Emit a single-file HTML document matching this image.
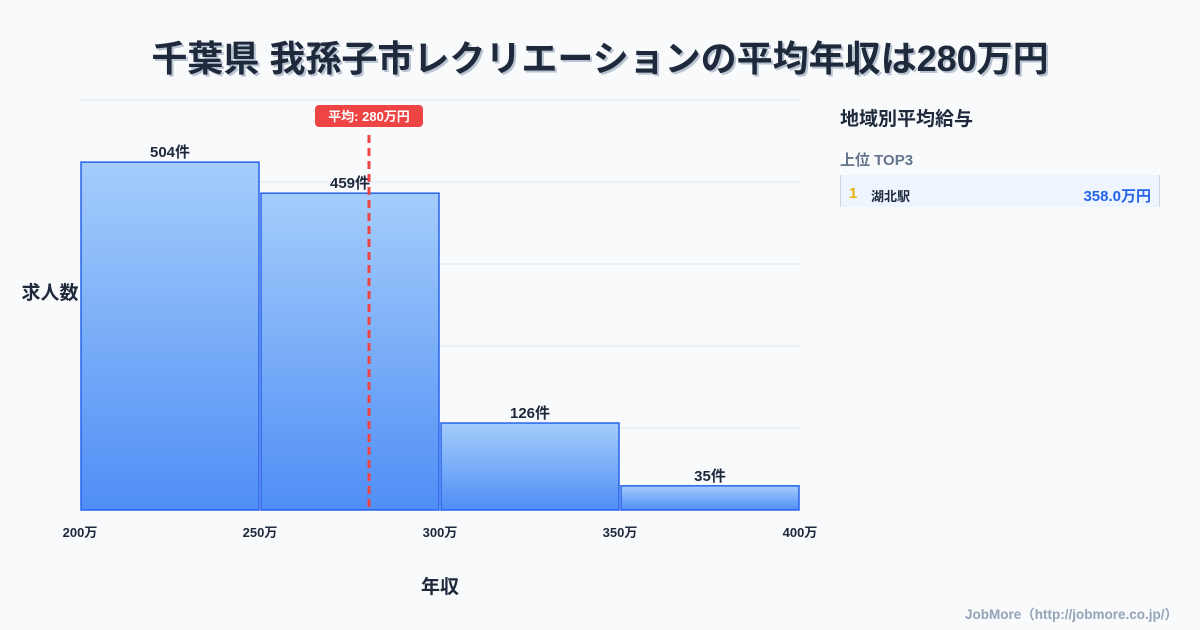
<!DOCTYPE html>
<html><head><meta charset="utf-8"><style>
body{margin:0;width:1200px;height:630px;background:#f8fafc;font-family:"Liberation Sans","Noto Sans CJK JP",sans-serif;overflow:hidden;position:relative}
.t{position:absolute}
</style></head><body>
<div class="t" style="left:0;width:1200px;top:30px;text-align:center;font-size:36px;font-weight:bold;color:#1e293b;text-shadow:2px 2px 0 #b8c2d0">千葉県 我孫子市レクリエーションの平均年収は280万円</div>
<svg class="t" style="left:0;top:0" width="1200" height="630">
<defs><linearGradient id="g" x1="0" y1="0" x2="0" y2="1"><stop offset="0" stop-color="#a5cdfb"/><stop offset="1" stop-color="#4f8ef5"/></linearGradient></defs>
<g id="grid"></g><g id="bars"></g><g id="xt"></g>
<text x="50" y="299" text-anchor="middle" font-size="19" font-weight="bold" fill="#1e293b">求人数</text>
<text x="440" y="593" text-anchor="middle" font-size="19" font-weight="bold" fill="#1e293b">年収</text>
<g id="avg"></g>
</svg>
<div class="t" style="left:840px;top:104px;font-size:19px;font-weight:bold;color:#1e293b">地域別平均給与</div>
<div class="t" style="left:840px;top:149px;font-size:15px;font-weight:bold;color:#64748b">上位 TOP3</div>
<div class="t" style="left:840px;top:175px;width:320px;height:32px;background:#eef5ff;border-left:1px solid #cbd5e1;border-right:1px solid #cbd5e1;box-sizing:border-box">
<span class="t" style="left:8px;top:10px;font-size:15px;font-weight:bold;color:#eab308">1</span>
<span class="t" style="left:30px;top:11px;font-size:13px;font-weight:bold;color:#1e293b">湖北駅</span>
<span class="t" style="right:8px;top:10px;font-size:15px;font-weight:bold;color:#2563eb">358.0万円</span>
</div>
<div class="t" style="right:22px;top:603px;font-size:13.5px;font-weight:bold;color:#94a3b8">JobMore（http://jobmore.co.jp/）</div>
<script>
const binStarts=[200,250,300,350];
const binEnds=[250,300,350,400];
const counts=[504,459,126,35];
const xTicks=[200,250,300,350,400];
const avgSalary=280;
const yMax=594;
const X=v=>80+(v-200)*3.6, Y=v=>510-v*410/yMax;
const NS='http://www.w3.org/2000/svg';
function mk(p,tag,a,txt){const e=document.createElementNS(NS,tag);for(const k in a)e.setAttribute(k,a[k]);if(txt!=null)e.textContent=txt;document.getElementById(p).appendChild(e);return e;}
for(let i=0;i<=5;i++){const y=Y(yMax*i/5);const l=mk('grid','line',{x1:80,x2:800,y1:y,y2:y,stroke:'#e2e8f0'});

}
counts.forEach((c,i)=>{const x0=X(binStarts[i])+1,x1=X(binEnds[i])-1;
const r=mk('bars','rect',{x:x0,y:Y(c),width:x1-x0,height:510-Y(c),fill:'url(#g)',stroke:'#2563eb','stroke-width':1.5});


const t=mk('bars','text',{x:(x0+x1)/2,y:Y(c)-5,'text-anchor':'middle','font-size':15,'font-weight':'bold',fill:'#1e293b'},c+'件');

});
xTicks.forEach(v=>{const t=mk('xt','text',{x:X(v),y:537,'text-anchor':'middle','font-size':13,'font-weight':'bold',fill:'#1e293b'},v+'万');

});
const ax=X(avgSalary)+1;
const al=mk('avg','line',{x1:ax,x2:ax,y1:135,y2:510,stroke:'#ef4444','stroke-width':3,'stroke-dasharray':'8,5'});


const ab=mk('avg','rect',{x:ax-54,y:105,width:108,height:22,rx:4,fill:'#ef4444'});


const at=mk('avg','text',{x:ax,y:121,'text-anchor':'middle','font-size':13,'font-weight':'bold',fill:'#fff'},'平均: '+avgSalary+'万円');


</script>
</body></html>
